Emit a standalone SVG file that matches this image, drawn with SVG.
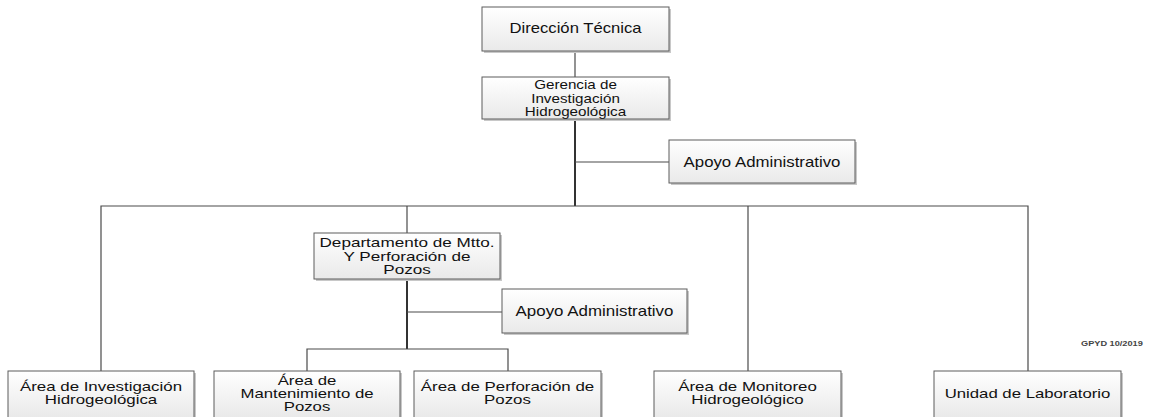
<svg xmlns="http://www.w3.org/2000/svg" width="1152" height="417" viewBox="0 0 1152 417">
<defs>
<linearGradient id="g" x1="0" y1="0" x2="0" y2="1">
<stop offset="0" stop-color="#ffffff"/>
<stop offset="1" stop-color="#e9e9e9"/>
</linearGradient>
</defs>
<style>
.box{fill:url(#g);stroke:#5c5c5c;stroke-width:1}
.sh{fill:#c8c8c8}
.t{font-family:"Liberation Sans",Arial,sans-serif;fill:#111;text-anchor:middle}
.c{stroke:#4a4a4a;stroke-width:1.2;fill:none}
.ct{stroke:#333;stroke-width:2;fill:none}
.note{font-family:"Liberation Sans",Arial,sans-serif;font-weight:bold;font-size:8px;fill:#444}
</style>
<rect width="1152" height="417" fill="#fff"/>
<g id="connectors">
<line class="c" x1="575" y1="51" x2="575" y2="77"/>
<line class="ct" x1="575" y1="119" x2="575" y2="206"/>
<line class="c" x1="575" y1="162" x2="669" y2="162"/>
<polyline class="c" points="101,371 101,206 1028,206 1028,371"/>
<line class="c" x1="407" y1="206" x2="407" y2="233"/>
<line class="c" x1="748" y1="206" x2="748" y2="371"/>
<line class="ct" x1="407" y1="279" x2="407" y2="349"/>
<line class="c" x1="407" y1="312" x2="502" y2="312"/>
<polyline class="c" points="307,371 307,349 508,349 508,371"/>
</g>
<g id="direccion">
<rect class="sh" x="484" y="9" width="187" height="44"/>
<rect class="box" x="482" y="7" width="187" height="44"/>
<text class="t" font-size="14" transform="translate(575.5,33.3) scale(1.19,1)">Dirección Técnica</text>
</g>
<g id="gerencia">
<rect class="sh" x="484" y="79" width="187" height="42"/>
<rect class="box" x="482" y="77" width="187" height="42"/>
<text class="t" font-size="13" transform="translate(575.5,89.3) scale(1.17,1)"><tspan x="0" y="0">Gerencia de</tspan><tspan x="0" y="13.4">Investigación</tspan><tspan x="0" y="26.7">Hidrogeológica</tspan></text>
</g>
<g id="apoyo1">
<rect class="sh" x="671" y="142" width="186" height="43"/>
<rect class="box" x="669" y="140" width="186" height="43"/>
<text class="t" font-size="14" transform="translate(762,166.7) scale(1.2,1)">Apoyo Administrativo</text>
</g>
<g id="departamento">
<rect class="sh" x="316" y="235" width="186" height="46"/>
<rect class="box" x="314" y="233" width="186" height="46"/>
<text class="t" font-size="12.6" transform="translate(407,247.3) scale(1.36,1)"><tspan x="0" y="0">Departamento de Mtto.</tspan><tspan x="0" y="13.4">Y Perforación de</tspan><tspan x="0" y="26.7">Pozos</tspan></text>
</g>
<g id="apoyo2">
<rect class="sh" x="504" y="291" width="185" height="44"/>
<rect class="box" x="502" y="289" width="185" height="44"/>
<text class="t" font-size="14" transform="translate(594.5,315.7) scale(1.21,1)">Apoyo Administrativo</text>
</g>
<g id="area-investigacion">
<rect class="sh" x="10" y="373" width="186" height="47"/>
<rect class="box" x="8" y="371" width="186" height="47"/>
<text class="t" font-size="12.5" transform="translate(101,391) scale(1.35,1)"><tspan x="0" y="0">Área de Investigación</tspan><tspan x="0" y="13.3">Hidrogeológica</tspan></text>
</g>
<g id="area-mantenimiento">
<rect class="sh" x="216" y="373" width="186" height="47"/>
<rect class="box" x="214" y="371" width="186" height="47"/>
<text class="t" font-size="12.5" transform="translate(307,385) scale(1.34,1)"><tspan x="0" y="0">Área de</tspan><tspan x="0" y="12.8">Mantenimiento de</tspan><tspan x="0" y="26">Pozos</tspan></text>
</g>
<g id="area-perforacion">
<rect class="sh" x="416" y="373" width="187" height="47"/>
<rect class="box" x="414" y="371" width="187" height="47"/>
<text class="t" font-size="12.5" transform="translate(507.5,391) scale(1.35,1)"><tspan x="0" y="0">Área de Perforación de</tspan><tspan x="0" y="13.3">Pozos</tspan></text>
</g>
<g id="area-monitoreo">
<rect class="sh" x="656" y="373" width="187" height="47"/>
<rect class="box" x="654" y="371" width="187" height="47"/>
<text class="t" font-size="12.5" transform="translate(747.5,391) scale(1.35,1)"><tspan x="0" y="0">Área de Monitoreo</tspan><tspan x="0" y="13.3">Hidrogeológico</tspan></text>
</g>
<g id="unidad-laboratorio">
<rect class="sh" x="936" y="373" width="187" height="47"/>
<rect class="box" x="934" y="371" width="187" height="47"/>
<text class="t" font-size="12.5" transform="translate(1027.5,397.7) scale(1.34,1)">Unidad de Laboratorio</text>
</g>
<text class="note" transform="translate(1081,345.5) scale(1.15,1)">GPYD 10/2019</text>
</svg>
